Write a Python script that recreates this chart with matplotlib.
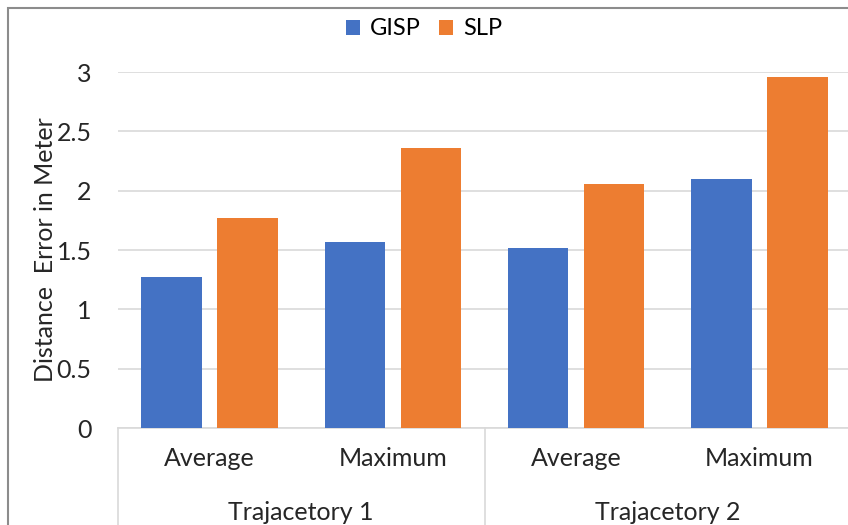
import matplotlib.pyplot as plt
import numpy as np
from matplotlib.patches import Rectangle
from matplotlib.transforms import blended_transform_factory

plt.rcParams['font.family'] = ['Lato', 'DejaVu Sans']

# Datos
categorias = ['Average', 'Maximum', 'Average', 'Maximum']
trayectorias = ['Trajacetory 1', 'Trajacetory 2']
gisp = [1.27, 1.57, 1.52, 2.10]
slp = [1.77, 2.36, 2.06, 2.96]
yticks = [0, 0.5, 1, 1.5, 2, 2.5, 3]
ytick_labels = ['0', '0.5', '1', '1.5', '2', '2.5', '3']

azul = '#4472C4'
naranja = '#ED7D31'
gris = '#D9D9D9'
texto = '#262626'
fs = 18

fig = plt.figure(figsize=(8.48, 5.25), dpi=100)
ax = fig.add_axes([118 / 848, 1 - 428 / 525, (851 - 118) / 848, (428 - 72) / 525])

x = np.arange(len(categorias))
ancho = 0.33
ax.bar(x - 0.207, gisp, ancho, color=azul, label='GISP', zorder=3)
ax.bar(x + 0.207, slp, ancho, color=naranja, label='SLP', zorder=3)

ax.set_xlim(-0.5, len(categorias) - 0.5)
ax.set_ylim(0, 3)
ax.set_yticks(yticks)
ax.set_yticklabels(ytick_labels)
ax.yaxis.grid(True, color=gris, linewidth=1.2, zorder=0)
for s in ['top', 'right', 'left']:
    ax.spines[s].set_visible(False)
ax.spines['bottom'].set_color(gris)
ax.spines['bottom'].set_linewidth(1.2)
ax.tick_params(axis='y', length=0, pad=19, labelsize=fs, labelcolor=texto)
ax.tick_params(axis='x', length=0, pad=14, labelsize=fs, labelcolor=texto)
ax.set_xticks(x)
ax.set_xticklabels(categorias)

# etiquetas de trayectoria y separadores
trans = blended_transform_factory(ax.transData, ax.transAxes)
for i, t in enumerate(trayectorias):
    ax.text(2 * i + 0.5, -0.236, t, transform=trans, ha='center', va='center',
            fontsize=fs, color=texto)
for xs in [-0.5, 1.5, 3.5]:
    ax.plot([xs, xs], [0, -0.3], transform=trans, color=gris, linewidth=1.2,
            clip_on=False)

ax.set_ylabel('Distance  Error in Meter', fontsize=fs, color=texto, labelpad=0)

fig.legend(loc='center', bbox_to_anchor=(0.5, 0.945), ncol=2, frameon=False,
           fontsize=17, handlelength=0.6, handleheight=0.6, handletextpad=0.4,
           columnspacing=0.8)

# borde gris
fig.patches.append(Rectangle((8 / 848, -0.1), 1.1, 1 - 8 / 525 + 0.1,
                             transform=fig.transFigure, fill=False,
                             edgecolor='#8C8C8C', linewidth=1.5))

fig.savefig('out.png', dpi=100)
